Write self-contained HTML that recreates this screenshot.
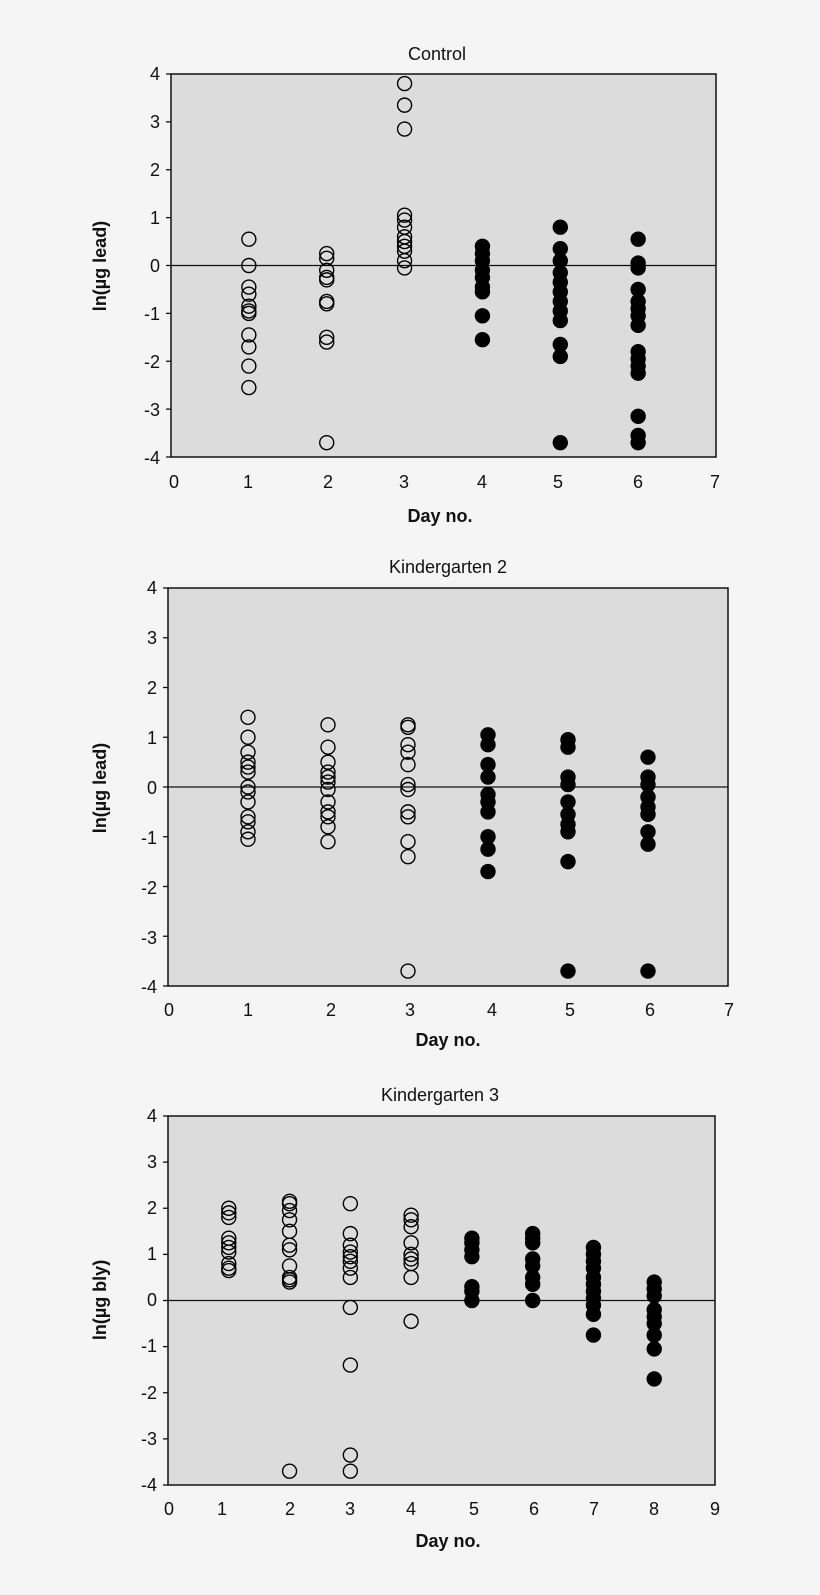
<!DOCTYPE html>
<html><head><meta charset="utf-8"><style>
html,body{margin:0;padding:0;background:#f5f5f5;}
svg{display:block;font-family:"Liberation Sans",sans-serif;}
</style></head><body>
<svg id="s" width="820" height="1595" viewBox="0 0 820 1595" xmlns="http://www.w3.org/2000/svg">
<rect width="820" height="1595" fill="#f5f5f5"/>
<g font-size="18" fill="#111">
<text x="437" y="60" text-anchor="middle">Control</text>
<text x="440" y="522" text-anchor="middle" font-weight="bold">Day no.</text>
<text transform="translate(106,266) rotate(-90)" text-anchor="middle" font-weight="bold">ln(µg lead)</text>
<text x="448" y="573" text-anchor="middle">Kindergarten 2</text>
<text x="448" y="1046" text-anchor="middle" font-weight="bold">Day no.</text>
<text transform="translate(106,788) rotate(-90)" text-anchor="middle" font-weight="bold">ln(µg lead)</text>
<text x="440" y="1101" text-anchor="middle">Kindergarten 3</text>
<text x="448" y="1547" text-anchor="middle" font-weight="bold">Day no.</text>
<text transform="translate(106,1300) rotate(-90)" text-anchor="middle" font-weight="bold">ln(µg bly)</text>
</g>
<g id="p1"></g><g id="p2"></g><g id="p3"></g>
<g font-size="18" fill="#111" id="ticks">
<text x="160" y="80" text-anchor="end">4</text><text x="160" y="128" text-anchor="end">3</text><text x="160" y="176" text-anchor="end">2</text><text x="160" y="224" text-anchor="end">1</text><text x="160" y="272" text-anchor="end">0</text><text x="160" y="320" text-anchor="end">-1</text><text x="160" y="368" text-anchor="end">-2</text><text x="160" y="416" text-anchor="end">-3</text><text x="160" y="464" text-anchor="end">-4</text>
<text x="174" y="488" text-anchor="middle">0</text><text x="248" y="488" text-anchor="middle">1</text><text x="328" y="488" text-anchor="middle">2</text><text x="404" y="488" text-anchor="middle">3</text><text x="482" y="488" text-anchor="middle">4</text><text x="558" y="488" text-anchor="middle">5</text><text x="638" y="488" text-anchor="middle">6</text><text x="715" y="488" text-anchor="middle">7</text>
<text x="157" y="594" text-anchor="end">4</text><text x="157" y="644" text-anchor="end">3</text><text x="157" y="694" text-anchor="end">2</text><text x="157" y="744" text-anchor="end">1</text><text x="157" y="794" text-anchor="end">0</text><text x="157" y="844" text-anchor="end">-1</text><text x="157" y="894" text-anchor="end">-2</text><text x="157" y="944" text-anchor="end">-3</text><text x="157" y="993" text-anchor="end">-4</text>
<text x="169" y="1016" text-anchor="middle">0</text><text x="248" y="1016" text-anchor="middle">1</text><text x="331" y="1016" text-anchor="middle">2</text><text x="410" y="1016" text-anchor="middle">3</text><text x="492" y="1016" text-anchor="middle">4</text><text x="570" y="1016" text-anchor="middle">5</text><text x="650" y="1016" text-anchor="middle">6</text><text x="729" y="1016" text-anchor="middle">7</text>
<text x="157" y="1122" text-anchor="end">4</text><text x="157" y="1168" text-anchor="end">3</text><text x="157" y="1214" text-anchor="end">2</text><text x="157" y="1260" text-anchor="end">1</text><text x="157" y="1306" text-anchor="end">0</text><text x="157" y="1352" text-anchor="end">-1</text><text x="157" y="1399" text-anchor="end">-2</text><text x="157" y="1445" text-anchor="end">-3</text><text x="157" y="1491" text-anchor="end">-4</text>
<text x="169" y="1515" text-anchor="middle">0</text><text x="222" y="1515" text-anchor="middle">1</text><text x="290" y="1515" text-anchor="middle">2</text><text x="350" y="1515" text-anchor="middle">3</text><text x="411" y="1515" text-anchor="middle">4</text><text x="474" y="1515" text-anchor="middle">5</text><text x="534" y="1515" text-anchor="middle">6</text><text x="594" y="1515" text-anchor="middle">7</text><text x="654" y="1515" text-anchor="middle">8</text><text x="715" y="1515" text-anchor="middle">9</text>
</g>
</svg>
<script>
var NS="http://www.w3.org/2000/svg";
function el(p,t,a){var e=document.createElementNS(NS,t);for(var k in a)e.setAttribute(k,a[k]);p.appendChild(e);return e;}
function plot(id,x0,x1,y0,y1,nx,data,filledFrom){
 var g=document.getElementById(id);
 el(g,"rect",{x:x0,y:y0,width:x1-x0,height:y1-y0,fill:"#dcdcdc",stroke:"#111","stroke-width":1.5});
 var ux=(x1-x0)/nx, uy=(y1-y0)/8;
 var yz=y0+4*uy;
 el(g,"line",{x1:x0,x2:x1,y1:yz,y2:yz,stroke:"#111","stroke-width":1.3});
 for(var i=0;i<=8;i++){var y=y0+i*uy;el(g,"line",{x1:x0-5,x2:x0,y1:y,y2:y,stroke:"#111","stroke-width":1.3});}
 data.forEach(function(d,i){var day=i+1,cx=x0+day*ux,f=day>=filledFrom;
  d.forEach(function(v){el(g,"circle",{cx:cx,cy:yz-v*uy,r:7,fill:f?"#000":"none",stroke:"#000","stroke-width":1.4});});});
}
plot("p1",171,716,74,457,7,[
[0.55,0,-0.45,-0.6,-0.85,-0.95,-1.0,-1.45,-1.7,-2.1,-2.55],
[0.25,0.15,-0.1,-0.25,-0.3,-0.75,-0.8,-1.5,-1.6,-3.7],
[3.8,3.35,2.85,1.05,0.95,0.8,0.6,0.5,0.4,0.3,0.1,-0.05],
[0.4,0.25,0.1,-0.1,-0.25,-0.45,-0.55,-1.05,-1.55],
[0.8,0.35,0.1,-0.15,-0.35,-0.55,-0.75,-0.95,-1.15,-1.65,-1.9,-3.7],
[0.55,0.05,-0.05,-0.5,-0.75,-0.9,-1.05,-1.25,-1.8,-1.95,-2.1,-2.25,-3.15,-3.55,-3.7]],4);
plot("p2",168,728,588,986,7,[
[1.4,1.0,0.7,0.5,0.4,0.3,0,-0.1,-0.3,-0.6,-0.7,-0.9,-1.05],
[1.25,0.8,0.5,0.3,0.2,0.1,-0.05,-0.3,-0.5,-0.6,-0.8,-1.1],
[1.25,1.2,0.85,0.7,0.45,0.05,-0.05,-0.5,-0.6,-1.1,-1.4,-3.7],
[1.05,0.85,0.45,0.2,-0.15,-0.3,-0.5,-1.0,-1.25,-1.7],
[0.95,0.8,0.2,0.05,-0.3,-0.55,-0.75,-0.9,-1.5,-3.7],
[0.6,0.2,0.05,-0.2,-0.4,-0.55,-0.9,-1.15,-3.7]],4);
plot("p3",168,715,1116,1485,9,[
[2.0,1.9,1.8,1.35,1.25,1.15,1.05,0.8,0.7,0.65],
[2.15,2.1,1.95,1.75,1.5,1.2,1.1,0.75,0.5,0.45,0.4,-3.7],
[2.1,1.45,1.2,1.05,0.95,0.85,0.7,0.5,-0.15,-1.4,-3.35,-3.7],
[1.85,1.75,1.6,1.25,1.0,0.9,0.8,0.5,-0.45],
[1.35,1.25,1.1,0.95,0.3,0.2,0.0],
[1.45,1.35,1.25,0.9,0.75,0.5,0.35,0.0],
[1.15,1.0,0.85,0.7,0.5,0.35,0.2,0.05,-0.1,-0.3,-0.75],
[0.4,0.25,0.1,-0.2,-0.35,-0.5,-0.75,-1.05,-1.7]],5);
</script>
</body></html>
